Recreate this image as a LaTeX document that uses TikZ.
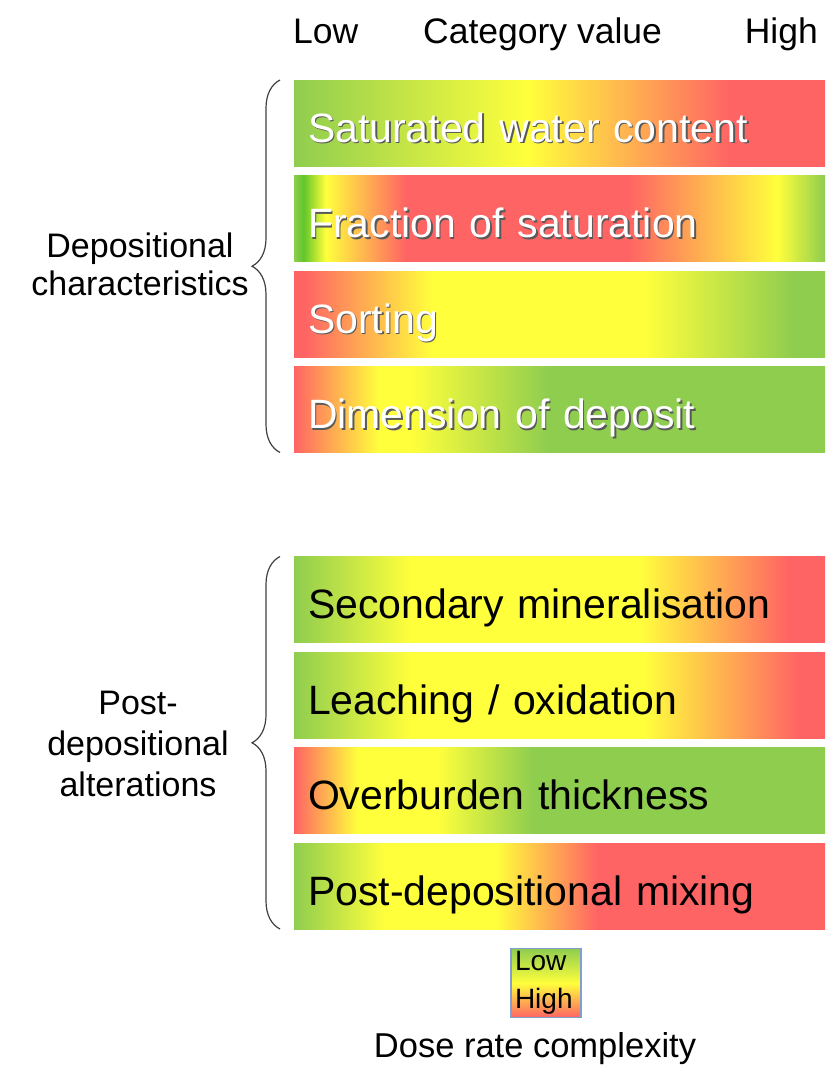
\documentclass[tikz,border=0pt]{standalone}
\usepackage{fontspec}
\setmainfont{Liberation Sans}
\usetikzlibrary{positioning,decorations.pathreplacing}

\definecolor{catgreen}{HTML}{8FCD4F}
\definecolor{brightgreen}{HTML}{62C62A}
\definecolor{catyellow}{HTML}{FFFF3C}
\definecolor{catred}{HTML}{FF6464}
\definecolor{keyframe}{HTML}{7F9FCF}

% one shading per bar, left (low) to right (high); the bar spans 25bp--75bp
\pgfdeclarehorizontalshading{satwatershade}{100bp}{color(0bp)=(catgreen); color(25bp)=(catgreen); color(47bp)=(catyellow); color(66bp)=(catred); color(100bp)=(catred)}
\pgfdeclarehorizontalshading{fracsatshade}{100bp}{color(0bp)=(catgreen); color(25bp)=(catgreen); color(25.9bp)=(brightgreen); color(28bp)=(catyellow); color(35.5bp)=(catred); color(56.5bp)=(catred); color(70.5bp)=(catyellow); color(75bp)=(catgreen); color(100bp)=(catgreen)}
\pgfdeclarehorizontalshading{sortingshade}{100bp}{color(0bp)=(catred); color(26bp)=(catred); color(38bp)=(catyellow); color(58bp)=(catyellow); color(72bp)=(catgreen); color(100bp)=(catgreen)}
\pgfdeclarehorizontalshading{dimdepshade}{100bp}{color(0bp)=(catred); color(25bp)=(catred); color(33bp)=(catyellow); color(36bp)=(catyellow); color(49bp)=(catgreen); color(100bp)=(catgreen)}
\pgfdeclarehorizontalshading{secminshade}{100bp}{color(0bp)=(catgreen); color(25bp)=(catgreen); color(36bp)=(catyellow); color(57.5bp)=(catyellow); color(71.5bp)=(catred); color(100bp)=(catred)}
\pgfdeclarehorizontalshading{leachshade}{100bp}{color(0bp)=(catgreen); color(25bp)=(catgreen); color(36bp)=(catyellow); color(58bp)=(catyellow); color(72.5bp)=(catred); color(100bp)=(catred)}
\pgfdeclarehorizontalshading{overburdenshade}{100bp}{color(0bp)=(catred); color(25bp)=(catred); color(31bp)=(catyellow); color(38.5bp)=(catyellow); color(47.5bp)=(catgreen); color(100bp)=(catgreen)}
\pgfdeclarehorizontalshading{postmixshade}{100bp}{color(0bp)=(catgreen); color(25bp)=(catgreen); color(33.5bp)=(catyellow); color(44bp)=(catyellow); color(53.5bp)=(catred); color(100bp)=(catred)}

\newcommand{\dropshadow}[1]{\makebox[0pt][l]{\hspace{1.6pt}\raisebox{-1.8pt}{\textcolor{black!65}{#1}}}#1}

\tikzset{
  catbar/.style={shade, minimum width=531pt, minimum height=86pt, inner xsep=14pt, inner ysep=0pt, outer sep=0pt,
    text width=503pt, align=left, text height=40pt, text depth=2pt, font=\fontsize{41}{49}\selectfont},
  depbar/.style={catbar, text=white},
  postbar/.style={catbar, text=black},
  toplabel/.style={inner sep=0pt, font=\fontsize{35.5}{42}\selectfont},
  grouplabel/.style={inner sep=0pt, align=center, font=\fontsize{34}{38}\selectfont},
  groupbrace/.style={decorate, decoration={brace, amplitude=28pt}, draw=black!75, line width=1.2pt},
  keybox/.style={draw=keyframe, line width=1.3pt, minimum width=70pt, minimum height=69pt, inner xsep=4pt, inner ysep=0pt,
    text width=62pt, align=left, top color=catgreen, bottom color=catred, middle color=catyellow, font=\fontsize{28}{38}\selectfont}
}

\begin{document}
\begin{tikzpicture}[x=1pt, y=1pt, node distance=9.5pt]
  \useasboundingbox (0,0) rectangle (825,-1068);

  % header
  \node (lowend) [toplabel, anchor=base west] at (293,-43) {Low};
  \node (catvalue) [toplabel, anchor=base west] at (423,-43) {Category value};
  \node (highend) [toplabel, anchor=base east] at (818,-43) {High};

  % depositional characteristics
  \node (satwater) [depbar, shading=satwatershade, anchor=north west] at (294,-80) {\dropshadow{Saturated water content}};
  \node (fracsat) [depbar, shading=fracsatshade, below=of satwater] {\dropshadow{Fraction of saturation}};
  \node (sorting) [depbar, shading=sortingshade, below=of fracsat] {\dropshadow{Sorting}};
  \node (dimdep) [depbar, shading=dimdepshade, below=of sorting] {\dropshadow{Dimension of deposit}};

  % post-depositional alterations
  \node (secmin) [postbar, shading=secminshade, below=104pt of dimdep] {Secondary mineralisation};
  \node (leaching) [postbar, shading=leachshade, below=of secmin] {Leaching / oxidation};
  \node (overburden) [postbar, shading=overburdenshade, below=of leaching] {Overburden thickness};
  \node (postmix) [postbar, shading=postmixshade, below=of overburden] {Post-depositional mixing};

  \draw[groupbrace] ([xshift=-14pt]dimdep.south west) -- ([xshift=-14pt]satwater.north west);
  \draw[groupbrace] ([xshift=-14pt]postmix.south west) -- ([xshift=-14pt]secmin.north west);
  \node (deplabel) [grouplabel] at (140,-264) {Depositional\\characteristics};
  \node (postlabel) [grouplabel, font=\fontsize{34}{41}\selectfont] at (138,-744) {Post-\\depositional\\alterations};

  % key
  \node (dosekey) [keybox, below=19pt of postmix, xshift=-13.5pt] {Low\\High};
  \node (keytitle) [inner sep=0pt, font=\fontsize{34.5}{40}\selectfont, below=14pt of dosekey, xshift=-11pt] {Dose rate complexity};
\end{tikzpicture}
\end{document}
